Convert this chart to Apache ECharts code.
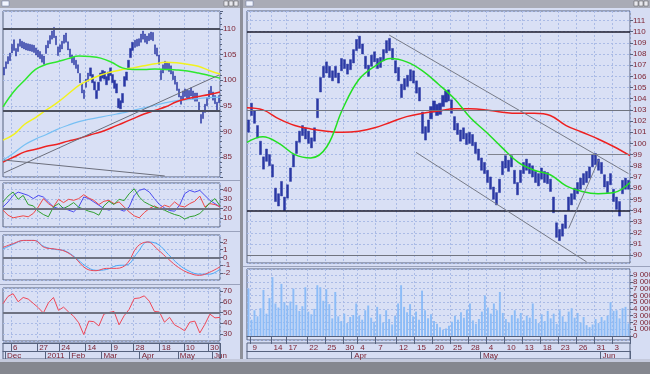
<!DOCTYPE html>
<html><head><meta charset="utf-8">
<script src="https://cdn.jsdelivr.net/npm/echarts@6/dist/echarts.min.js"></script>
<style>html,body{margin:0;padding:0;background:#d6ddf3;}#c{width:650px;height:374px;}</style>
</head><body><div id="c"></div>
<script>
// ---------- LEFT WINDOW (daily) ----------
const leftLow = [101.0,102.3,103.2,103.8,105.3,105.8,104.7,105.6,106.6,106.3,
106.1,105.9,105.8,105.7,105.6,105.4,104.9,104.5,104.2,103.5,
103.1,105.2,106.3,107.1,108.0,108.3,106.9,104.8,105.5,106.1,
107.2,107.4,105.9,104.5,103.4,103.0,102.3,101.4,99.5,97.5,
96.4,98.6,99.8,100.8,99.5,98.1,96.4,98.0,99.8,100.4,
100.2,99.1,100.0,100.9,99.5,98.4,97.5,94.6,94.4,95.6,
98.8,100.0,102.1,104.4,105.8,106.4,106.6,106.7,107.4,108.0,
107.4,107.1,107.7,107.9,107.7,105.1,104.7,103.1,100.1,101.4,
102.2,102.0,101.7,101.2,100.1,99.2,98.0,96.7,95.3,96.3,
96.8,96.5,96.4,96.9,96.3,95.9,95.9,93.9,91.6,92.5,
93.7,95.0,96.4,97.2,96.1,95.4,93.9,95.6];
const leftHigh = [102.5,103.6,104.6,105.3,107.0,107.9,106.2,107.1,108.0,107.6,
107.4,107.2,107.1,107.0,106.9,106.8,106.3,105.9,105.6,105.0,
104.7,106.8,107.7,108.7,109.6,110.3,108.6,106.5,106.9,107.6,
108.8,109.2,107.5,106.1,104.9,104.5,103.9,103.0,101.3,99.3,
98.1,100.2,101.4,102.4,101.1,99.7,98.0,99.6,101.4,101.9,
101.7,100.7,101.6,102.4,101.1,100.0,99.3,96.4,96.0,97.4,
100.7,101.6,103.9,106.2,107.4,107.8,108.0,108.1,109.0,109.6,
109.0,108.6,109.1,109.4,109.3,106.9,106.3,104.9,101.9,103.0,
103.7,103.5,103.3,102.8,101.7,100.8,99.6,98.3,96.9,97.9,
98.3,98.1,98.0,98.5,97.9,97.5,97.5,95.7,93.3,94.1,
95.3,96.6,98.0,98.8,97.7,97.0,95.7,97.0];
const leftMaGreen  = [94.8,97.8,100.0,102.1,103.1,103.6,104.2,104.7,104.6,104.3,103.5,102.4,102.1,102.1,102.2,102.1,102.0,101.8,101.4,100.9,100.4];
const leftMaYellow = [88.3,89.4,91.4,92.7,94.2,95.6,97.3,99.0,100.1,101.0,101.6,102.1,102.4,102.8,103.2,103.5,103.4,103.1,102.7,101.9,101.2];
const leftMaRed    = [84.0,85.0,86.0,86.5,87.1,87.5,88.1,88.6,89.3,89.9,90.7,91.6,92.5,93.4,94.1,94.8,95.8,96.4,96.8,97.2,97.7];
const leftMaBlue   = [84.4,85.8,87.4,88.5,89.4,90.4,91.2,91.9,92.4,92.8,93.2,93.6,94.1,94.6,95.1,95.6,96.0,96.2,96.4,96.6,96.7];
const leftLevels = [110, 94];
const leftTrendUp = [[0, 81.9], [107, 101.0]];
const leftTrendDown = [[0, 84.4], [80, 81.3]];
const lastPrice = 96.33;

const adxBlue  = [21.7,27.0,33.9,37.4,35.7,33.9,30.5,33.9,32.2,27.0,21.7,20.0,20.7,18.3,16.5,21.7,32.2,30.5,27.0,23.5,20.0,18.3,20.0,19.3,17.2,21.7,33.9,39.2,40.9,37.4,30.5,24.2,20.7,17.9,17.2,23.5,35.7,39.2,37.4,39.2,33.9,28.7,25.2,21.7];
const adxRed   = [18.3,13.0,10.2,11.3,12.3,11.3,14.8,21.7,30.5,25.2,21.7,29.8,26.3,29.8,28.7,30.5,34.6,31.1,28.7,24.2,27.7,28.7,25.2,27.0,21.7,16.5,12.3,10.2,15.8,20.0,22.8,20.0,23.5,21.7,27.0,22.8,21.7,25.2,27.7,33.2,21.7,25.2,24.2,21.7];
const adxGreen = [27.0,33.2,37.4,29.8,33.9,24.2,22.8,17.2,13.7,11.3,21.7,25.2,20.0,22.8,26.3,21.4,19.3,17.2,15.8,13.0,22.8,27.7,24.2,29.8,28.4,35.7,40.9,32.2,27.0,24.2,21.7,20.0,18.3,15.8,13.7,12.3,8.9,11.3,12.3,14.8,20.0,26.3,30.5,22.8];
const adxLevel = 20;
const macdRed  = [1.3,1.8,2.2,2.2,1.3,1.1,0.8,-0.1,-1.4,-1.7,-1.4,-1.4,-0.8,1.4,2.0,1.0,-0.2,-1.3,-2.0,-2.3,-1.9,-1.2];
const macdBlue = [1.1,1.7,2.2,2.2,1.4,1.05,0.85,0.0,-1.1,-1.65,-1.55,-1.05,-0.95,0.6,2.0,1.7,0.4,-0.9,-1.75,-2.15,-2.15,-1.5];
const macdLevel = 0;
const rsiRed = [58.3,65,67.5,60,64,62.5,58.5,54.5,49.5,59,64,52,55,50.5,46.5,40.5,29.5,42,41.5,37.5,48.5,50,51,38.5,47,53,63,63.5,65.5,60.5,51,50.5,41,45.5,38.5,36,33,41,42,31,39,48.5,45,45.5];
const rsiLevel = 50;

const leftDateIdx = [4,17,28,41,54,65,78,90,102];
const leftDateLabels = ['6','27','24','14','9','28','18','10','30'];
const leftMonthIdx = [1,21,33,49,68,87,104];
const leftMonthLabels = ['Dec','2011','Feb','Mar','Apr','May','Jun'];

// ---------- RIGHT WINDOW (intraday) ----------
const mainLow = [101.0,102.5,101.8,100.5,99.0,97.7,98.4,98.0,97.0,94.8,
94.4,95.3,94.0,95.1,96.6,97.9,99.1,100.1,100.7,100.4,
100.0,99.6,100.2,102.3,104.6,105.9,106.3,105.9,105.6,105.9,
105.4,106.5,106.7,106.2,106.6,107.2,108.3,108.5,108.0,106.7,
106.0,106.9,107.3,106.7,106.8,107.4,108.1,108.3,107.5,106.3,
105.6,104.1,104.8,105.1,105.6,105.4,104.5,103.8,100.9,100.3,
101.0,102.2,102.8,102.5,102.6,103.3,103.7,103.8,102.7,101.2,
100.8,100.2,100.4,99.9,100.0,99.8,99.1,98.5,97.6,97.3,
96.5,95.9,95.0,94.5,95.6,97.2,97.8,97.5,97.9,96.4,
95.4,96.5,97.3,97.6,97.3,97.0,96.5,96.2,96.8,96.5,
96.4,95.7,93.8,91.6,91.3,91.7,92.4,94.0,94.5,95.0,
95.5,95.9,96.3,96.5,96.9,97.9,98.1,97.6,97.3,96.1,
95.6,96.3,94.8,94.1,93.5,95.5,95.9,95.9];
const mainHigh = [102.1,103.6,102.9,101.6,100.2,98.8,99.5,99.0,98.1,96.0,
95.5,96.6,95.2,96.3,97.8,99.0,100.2,101.1,101.6,101.4,
101.1,100.5,101.4,104.0,105.9,106.9,107.3,106.9,106.5,106.9,
106.3,107.6,107.5,107.1,107.5,108.4,109.3,109.6,108.9,107.8,
107.0,107.9,108.2,107.6,107.7,108.4,109.2,109.4,108.5,107.4,
106.8,105.3,105.8,106.1,106.6,106.5,105.6,105.0,102.8,101.5,
102.1,103.3,103.8,103.5,103.6,104.3,104.7,104.8,103.9,102.4,
101.8,101.2,101.4,100.9,101.0,100.8,100.1,99.5,98.7,98.3,
97.6,97.0,96.1,95.6,96.8,98.4,98.9,98.5,98.9,97.6,
96.5,97.6,98.3,98.6,98.2,98.0,97.5,97.3,97.8,97.5,
97.4,96.8,95.2,92.9,92.3,92.8,93.6,95.2,95.5,96.0,
96.5,96.9,97.3,97.5,97.9,99.0,99.1,98.6,98.3,97.2,
96.6,97.3,95.9,95.2,94.8,96.7,96.9,96.7];
const mainMaGreen = [100.1,100.6,100.0,99.0,98.7,99.7,103.1,105.7,106.9,107.6,107.3,106.5,105.3,104.0,102.3,101.0,99.6,98.3,97.6,97.2,96.2,95.7,95.5,95.6,96.5];
const mainMaRed   = [103.2,103.0,102.2,101.6,101.3,101.1,101.0,101.1,101.4,101.9,102.4,102.7,102.9,103.1,103.1,103.0,102.8,102.7,102.7,102.5,101.6,101.0,100.4,99.7,98.9];
const mainBlackLevels = [110, 94];
const mainGrayLevels = [103, 90];
const mainPartialLevel = [[80, 99], [127, 99]];
const mainChannelUpper = [[47, 109.7], [127, 97.3]];
const mainChannelLower = [[56, 99.2], [113, 89.4]];
const mainTrendUp = [[107, 92.4], [117, 98.5]];
// volume in thousands
const volume = [7000,2400,3800,2900,4100,6800,3300,5600,8700,4800,
4200,7700,5000,4500,5100,7000,4600,3700,4400,7200,
3600,3200,4000,7500,7200,5200,6900,4700,2600,6500,
2900,2200,3300,1900,2800,3100,4800,3000,2400,3800,
4500,2700,2100,4300,3200,2000,3800,2500,1700,3000,
4800,7500,4300,3500,4700,2900,3600,2400,6700,3800,
2600,3200,2200,1800,1300,900,1100,1500,2100,3000,
2400,3500,2700,3900,4800,2300,1800,2500,3600,6000,
4200,3300,4800,3800,6500,3400,2500,2000,3100,3800,
2600,3400,2300,3000,2700,4800,2500,1900,3200,2200,
3700,2600,3300,1800,3800,2900,2100,3600,4100,2700,
3400,2000,2800,1600,1300,1700,2500,1900,2800,2300,
3000,5000,3700,3800,2600,4100,4300,1850];
const rightDateIdx = [1,8,13,20,26,32,37,43,50,56,62,68,74,80,86,92,98,104,110,116,122];
const rightDateLabels = ['9','14','17','22','25','30','4','7','12','15','20','25','28','4','10','13','18','23','26','31','3'];
const rightMonthIdx = [35,78,118];
const rightMonthLabels = ['Apr','May','Jun'];

// ---------- build ----------
const FONT = 'Liberation Sans';
const LBL = '#7a1e2e', FRAME = '#56627e';
const gridLineStyle = {color:'#aabbe6', type:[2,2], width:1};
const seq = n => Array.from({length:n}, (_, i) => String(i));
const leftN = leftHigh.length, mainN = mainHigh.length;
const fmtVol = v => String(Math.round(v * 1000)).replace(/\B(?=(\d{3})+(?!\d))/g, ' ');

function hiddenCat(gridIndex, n) {
  return {type:'category', gridIndex, data:seq(n), boundaryGap:false, show:false};
}
function gridCat(gridIndex, n, idx) {
  return {type:'category', gridIndex, data:seq(n), boundaryGap:true,
    axisLine:{show:false}, axisTick:{show:false}, axisLabel:{show:false},
    splitLine:{show:true, interval:(i) => idx.includes(i), lineStyle:gridLineStyle}};
}
function dateRow(gridIndex, n, idx, labels, offset, withSplit) {
  const m = {}; idx.forEach((k, j) => m[k] = labels[j]);
  return {type:'category', gridIndex, data:seq(n), boundaryGap:true, position:'bottom', offset,
    axisLine:{show:true, lineStyle:{color:FRAME, width:1}},
    axisTick:{show:true, interval:(i) => (i in m), length:8, lineStyle:{color:FRAME}},
    axisLabel:{show:true, interval:(i) => (i in m), formatter:(v, i) => m[i] || '',
      align:'left', verticalAlign:'top', margin:1, color:LBL, fontSize:8, fontFamily:FONT, padding:[0,0,0,1]},
    splitLine:{show:withSplit, interval:(i) => (i in m), lineStyle:gridLineStyle}};
}
function yAx(gridIndex, min, max, splitNumber, extra) {
  return Object.assign({type:'value', gridIndex, position:'right', min, max, splitNumber,
    axisLine:{show:false},
    axisTick:{show:true, length:3, lineStyle:{color:FRAME}},
    axisLabel:{color:LBL, fontSize:8, fontFamily:FONT, margin:3, showMinLabel:false, showMaxLabel:false},
    splitLine:{show:true, lineStyle:gridLineStyle}}, extra || {});
}
const gridBase = {show:true, backgroundColor:'#d9e0f5', borderColor:FRAME, borderWidth:1, outerBoundsMode:'none', containLabel:false};
const grids = [
  Object.assign({left:3, top:11, width:217, height:166}, gridBase),
  Object.assign({left:3, top:183, width:217, height:44}, gridBase),
  Object.assign({left:3, top:235, width:217, height:45}, gridBase),
  Object.assign({left:3, top:288, width:217, height:53}, gridBase),
  Object.assign({left:247, top:11, width:383, height:252}, gridBase),
  Object.assign({left:247, top:269, width:383, height:71}, gridBase)
];
const xAxes = [
  gridCat(0, leftN, leftDateIdx),          //0
  hiddenCat(0, leftMaGreen.length),        //1
  gridCat(1, leftN, leftDateIdx),          //2
  hiddenCat(1, adxBlue.length),            //3
  gridCat(2, leftN, leftDateIdx),          //4
  hiddenCat(2, macdRed.length),            //5
  dateRow(3, leftN, leftDateIdx, leftDateLabels, 2, true),     //6
  dateRow(3, leftN, leftMonthIdx, leftMonthLabels, 10, false), //7
  hiddenCat(3, rsiRed.length),             //8
  gridCat(4, mainN, rightDateIdx),         //9
  hiddenCat(4, mainMaGreen.length),        //10
  dateRow(5, mainN, rightDateIdx, rightDateLabels, 3, true),   //11
  dateRow(5, mainN, rightMonthIdx, rightMonthLabels, 11, false) //12
];
const yAxes = [
  yAx(0, 81.1, 113.5, 6, {minorTick:{show:true, splitNumber:5, length:2, lineStyle:{color:FRAME}}}),
  yAx(1, 0.5, 47, 5),
  yAx(2, -2.9, 2.9, 6),
  yAx(3, 23.5, 72.8, 5),
  yAx(4, 89.3, 111.85, 22),
  yAx(5, -600, 9900, 10, {axisLabel:{color:LBL, fontSize:8, fontFamily:FONT, margin:3, showMinLabel:false, showMaxLabel:false,
    formatter:(v) => (v < 0 || v > 9000) ? '' : fmtVol(v)}})
];
const lvl = (v, color, width) => ({yAxis:v, lineStyle:{color, width, type:'solid'}});
const seg = (pts, color, width) => [{coord:pts[0], lineStyle:{color, width, type:'solid'}}, {coord:pts[1]}];
const tagLabel = (text) => ({show:true, position:'end', distance:2, formatter:text, color:'#2a46b8', fontSize:8, fontFamily:FONT,
  backgroundColor:'#eef2ff', borderColor:'#7884a0', borderWidth:1, padding:[1,1,0,1]});
const line = (xi, yi, data, color, width, smooth) => ({type:'line', xAxisIndex:xi, yAxisIndex:yi, data, showSymbol:false, symbol:'none',
  smooth:smooth ? 0.4 : false, lineStyle:{color, width}, itemStyle:{color}, z:3, silent:true});
const candle = (lo, hi) => hi.map((h, i) => [lo[i], h, lo[i], h]);
const BAR = '#2a38a4';

const series = [
  {type:'candlestick', xAxisIndex:0, yAxisIndex:0, data:candle(leftLow, leftHigh), barWidth:'85%',
    itemStyle:{color:BAR, borderColor:BAR, color0:BAR, borderColor0:BAR, borderWidth:0.5}, z:2, silent:true,
    markLine:{symbol:'none', silent:true, label:{show:false}, animation:false, data:[
      ...leftLevels.map(v => lvl(v, '#4b4f5e', 2)),
      seg(leftTrendUp, '#6c6f7c', 1), seg(leftTrendDown, '#6c6f7c', 1),
      {yAxis:lastPrice, lineStyle:{opacity:0, width:0}, label:tagLabel(lastPrice.toFixed(2))}
    ]}},
  line(1, 0, leftMaBlue, '#78c0f4', 1.2, true),
  line(1, 0, leftMaRed, '#ee2222', 1.5, true),
  line(1, 0, leftMaYellow, '#f2f21e', 1.5, true),
  line(1, 0, leftMaGreen, '#2ee82e', 1.5, true),
  Object.assign(line(3, 1, adxBlue, '#4b4bf0', 1, false), {markLine:{symbol:'none', silent:true, label:{show:false}, data:[lvl(adxLevel, '#6f7382', 2)]}}),
  line(3, 1, adxRed, '#f04848', 1, false),
  line(3, 1, adxGreen, '#30a030', 1, false),
  Object.assign(line(5, 2, macdBlue, '#48a8f8', 1, true), {markLine:{symbol:'none', silent:true, label:{show:false}, data:[lvl(macdLevel, '#6f7382', 2)]}}),
  line(5, 2, macdRed, '#f04858', 1, true),
  Object.assign(line(8, 3, rsiRed, '#f04858', 1, false), {markLine:{symbol:'none', silent:true, label:{show:false}, data:[lvl(rsiLevel, '#6f7382', 2)]}}),
  {type:'candlestick', xAxisIndex:9, yAxisIndex:4, data:candle(mainLow, mainHigh), barWidth:'85%',
    itemStyle:{color:BAR, borderColor:BAR, color0:BAR, borderColor0:BAR, borderWidth:0.5}, z:2, silent:true,
    markLine:{symbol:'none', silent:true, label:{show:false}, data:[
      ...mainBlackLevels.map(v => lvl(v, '#1c1c2c', 1.5)),
      ...mainGrayLevels.map(v => lvl(v, '#70747f', 1)),
      seg(mainPartialLevel, '#80848f', 1),
      seg(mainChannelUpper, '#777b88', 1), seg(mainChannelLower, '#777b88', 1), seg(mainTrendUp, '#777b88', 1),
      {yAxis:lastPrice, lineStyle:{opacity:0, width:0}, label:tagLabel(lastPrice.toFixed(2))}
    ]}},
  line(10, 4, mainMaRed, '#ee2020', 1.5, true),
  line(10, 4, mainMaGreen, '#22e022', 1.5, true),
  {type:'bar', xAxisIndex:11, yAxisIndex:5, data:volume, barCategoryGap:'35%', itemStyle:{color:'#8cbcf7'}, silent:true,
    markLine:{symbol:'none', silent:true, data:[{yAxis:volume[volume.length - 1], lineStyle:{opacity:0, width:0},
      label:tagLabel(fmtVol(volume[volume.length - 1]))}]}}
];

const graphic = [
  {type:'rect', shape:{x:0, y:0, width:240, height:8}, style:{fill:'#a9abb6'}},
  {type:'rect', shape:{x:243, y:0, width:407, height:8}, style:{fill:'#a9abb6'}},
  {type:'rect', shape:{x:2, y:1, width:7, height:5}, style:{fill:'#f2f5ff', stroke:'#6878a0', lineWidth:0.5}},
  {type:'rect', shape:{x:246, y:1, width:7, height:5}, style:{fill:'#f2f5ff', stroke:'#6878a0', lineWidth:0.5}},
  {type:'rect', shape:{x:224, y:1, width:4, height:5}, style:{fill:'#e8e8ee', stroke:'#555', lineWidth:0.5}},
  {type:'rect', shape:{x:229, y:1, width:4, height:5}, style:{fill:'#e8e8ee', stroke:'#555', lineWidth:0.5}},
  {type:'rect', shape:{x:234, y:1, width:4, height:5}, style:{fill:'#e8e8ee', stroke:'#555', lineWidth:0.5}},
  {type:'rect', shape:{x:634, y:1, width:4, height:5}, style:{fill:'#e8e8ee', stroke:'#555', lineWidth:0.5}},
  {type:'rect', shape:{x:639, y:1, width:4, height:5}, style:{fill:'#e8e8ee', stroke:'#555', lineWidth:0.5}},
  {type:'rect', shape:{x:644, y:1, width:4, height:5}, style:{fill:'#e8e8ee', stroke:'#555', lineWidth:0.5}},
  {type:'rect', shape:{x:240, y:0, width:3, height:362}, style:{fill:'#8e909a'}},
  {type:'line', shape:{x1:0, y1:180.5, x2:240, y2:180.5}, style:{stroke:'#9aa2bc', lineWidth:1}},
  {type:'line', shape:{x1:0, y1:231.5, x2:240, y2:231.5}, style:{stroke:'#9aa2bc', lineWidth:1}},
  {type:'line', shape:{x1:0, y1:284.5, x2:240, y2:284.5}, style:{stroke:'#9aa2bc', lineWidth:1}},
  {type:'line', shape:{x1:243, y1:266.5, x2:650, y2:266.5}, style:{stroke:'#9aa2bc', lineWidth:1}},
  {type:'rect', shape:{x:3, y:343, width:217, height:16}, style:{fill:'none', stroke:FRAME, lineWidth:1}},
  {type:'rect', shape:{x:247, y:343, width:383, height:16}, style:{fill:'none', stroke:FRAME, lineWidth:1}},
  {type:'rect', shape:{x:0, y:359, width:650, height:3}, style:{fill:'#c4c9dc'}},
  {type:'rect', shape:{x:0, y:362, width:650, height:12}, style:{fill:'#85878f'}}
];

const chart = echarts.init(document.getElementById('c'), null, {renderer:'canvas'});
chart.setOption({
  animation:false,
  backgroundColor:'#d6ddf3',
  textStyle:{fontFamily:FONT},
  grid:grids, xAxis:xAxes, yAxis:yAxes, series, graphic
});
</script></body></html>
